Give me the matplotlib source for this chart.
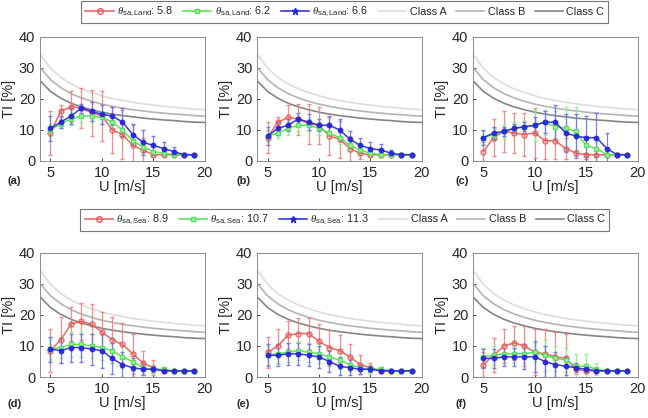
import numpy as np
import matplotlib
matplotlib.use("Agg")
import matplotlib.pyplot as plt
from matplotlib.lines import Line2D

plt.rcParams['font.family'] = ['Liberation Sans', 'DejaVu Sans']
plt.rcParams['mathtext.fontset'] = 'custom'
plt.rcParams['mathtext.rm'] = 'Liberation Sans'
plt.rcParams['mathtext.it'] = 'Liberation Serif:italic'

U = [5, 6, 7, 8, 9, 10, 11, 12, 13, 14, 15, 16, 17, 18, 19]

# IEC reference curves (U = 4..20)
U_ref = [4, 5, 6, 7, 8, 9, 10, 11, 12, 13, 14, 15, 16, 17, 18, 19, 20]
class_a = [34.4, 29.9, 26.9, 24.8, 23.2, 22.0, 21.0, 20.1, 19.5, 18.9, 18.4, 18.0, 17.6, 17.3, 17.0, 16.7, 16.5]
class_b = [30.1, 26.2, 23.6, 21.7, 20.3, 19.2, 18.3, 17.6, 17.0, 16.5, 16.1, 15.7, 15.4, 15.1, 14.9, 14.6, 14.4]
class_c = [25.8, 22.4, 20.2, 18.6, 17.4, 16.5, 15.7, 15.1, 14.6, 14.2, 13.8, 13.5, 13.2, 13.0, 12.7, 12.5, 12.4]

land_labels = ["5.8", "6.2", "6.6"]
sea_labels = ["8.9", "10.7", "11.3"]

# (a)
a_red = [9, 16, 17.5, 17, 15.5, 14.5, 10, 8.5, 5, 3.5, 2, 2, 2, 2, 2]
a_red_e = [7, 2, 5, 6.5, 7.5, 8, 7.5, 8, 6.5, 4, 0.5, 0.3, 0.3, 0.2, 0.2]
a_grn = [10, 12, 13.5, 14.5, 14.5, 14, 12.5, 10, 6.5, 4.5, 3, 2.5, 2, 2, 2]
a_grn_e = [2, 1.5, 2, 2, 2, 2, 2, 2.5, 2, 2, 1.5, 1, 0.5, 0.3, 0.2]
a_blu = [10.5, 12.5, 14.5, 17, 16, 15, 14.5, 12.5, 8.5, 6, 5, 4, 3, 2, 2]
a_blu_e = [4, 2, 2.5, 1.5, 3, 3, 3, 4.5, 3.5, 4, 3, 2, 1.5, 0.5, 0.3]
# (b)
b_red = [7.5, 12.5, 14, 13.5, 12, 11.5, 8, 7, 4, 2.5, 2, 2, 2, 2, 2]
b_red_e = [5, 1.5, 4, 5, 6.5, 6, 6, 6, 4, 2, 0.5, 0.3, 0.3, 0.2, 0.2]
b_grn = [8, 9, 10.5, 11.5, 11.5, 10.5, 9, 7.5, 5, 3.5, 2.5, 2, 2, 2, 2]
b_grn_e = [2, 1.5, 2, 2, 2, 2, 2, 2, 2, 1.5, 1, 0.8, 0.5, 0.3, 0.2]
b_blu = [8, 10.5, 11.5, 13.5, 12.5, 11.5, 11.5, 10, 7, 5, 4, 3.5, 2.5, 2, 2]
b_blu_e = [3, 2, 2, 2, 2.5, 2, 3, 3.5, 2.5, 2.5, 2, 2, 1, 0.5, 0.3]
# (c)
c_red = [3, 7.5, 9.5, 9, 8.5, 9, 6.5, 6.5, 4, 2.5, 2, 2, 2, 2, 2]
c_red_e = [3, 6, 6.5, 6.5, 7, 8, 6, 6, 3.5, 1, 0.5, 0.3, 0.3, 0.2, 0.2]
c_grn = [7.5, 8.5, 9.5, 10.5, 11, 11.5, 12.5, 11, 10.5, 9.5, 5, 4, 2, 2, 2]
c_grn_e = [2, 2, 2, 2, 2, 5, 4, 5, 7, 8, 3, 2, 0.5, 0.3, 0.2]
c_blu = [7.5, 9, 9.5, 10.5, 11, 11.5, 12.5, 12.5, 9, 8, 7.5, 7.5, 4, 2, 2]
c_blu_e = [2.5, 2, 1.5, 1.5, 1.5, 2.5, 3.5, 5.5, 6, 7, 7, 8, 5, 0.5, 0.3]
# (d)
d_red = [8.5, 12, 17, 18, 17, 14.5, 12, 10.5, 7.5, 4.5, 3, 2, 2, 2, 2]
d_red_e = [7, 7.5, 5.5, 6, 6.5, 6.5, 7.5, 7, 6.5, 4, 2.5, 0.5, 0.3, 0.2, 0.2]
d_grn = [9, 9.5, 10.5, 10.5, 10, 9.5, 8.5, 6.5, 5, 3, 2.5, 2.5, 2, 2, 2]
d_grn_e = [3.5, 3.5, 4, 4, 4, 4, 4, 3.5, 3, 2, 1.5, 0.8, 0.5, 0.3, 0.2]
d_blu = [9, 8.5, 9.5, 9.5, 9, 8.5, 6, 4, 3, 2.5, 2.5, 2, 2, 2, 2]
d_blu_e = [4, 4, 4.5, 4.5, 5, 5.5, 5, 4, 3, 2, 1, 0.5, 0.3, 0.2, 0.2]
# (e)
e_red = [8, 10, 13.5, 14, 14, 11.5, 9.5, 8.5, 6.5, 4, 3, 2, 2, 2, 2]
e_red_e = [5, 5.5, 4.5, 5, 5, 5.5, 5.5, 5, 4, 3, 1.5, 0.5, 0.3, 0.2, 0.2]
e_grn = [7, 7.5, 8, 8.5, 8, 7.5, 6.5, 5.5, 4, 3, 2.5, 2.5, 2, 2, 2]
e_grn_e = [3, 3, 3, 3, 3, 3, 3, 3, 2.5, 2, 1.5, 0.8, 0.5, 0.3, 0.2]
e_blu = [7, 7, 7.5, 7.5, 7, 6.5, 5, 3.5, 3, 2.5, 2.5, 2, 2, 2, 2]
e_blu_e = [3.5, 3.5, 3.5, 3.5, 3.5, 3.5, 3.5, 3, 2.5, 1.5, 1, 0.5, 0.3, 0.2, 0.2]
# (f)
f_red = [4, 7, 10, 11, 10, 8, 7.5, 6.5, 6, 2.5, 2, 2, 2, 2, 2]
f_red_e = [4, 5.5, 5.5, 5.5, 6.5, 7.5, 8, 8, 8, 1.5, 0.5, 0.3, 0.3, 0.2, 0.2]
f_grn = [6.5, 7, 7.5, 7.5, 7.5, 8, 7, 6, 5.5, 3.5, 3.5, 2.5, 2, 2, 2]
f_grn_e = [3, 3, 3, 3, 3, 3, 5, 4, 4, 4, 4, 2, 0.5, 0.3, 0.2]
f_blu = [6, 6, 6.5, 6.5, 6.5, 6.5, 5, 4, 3.5, 3, 2.5, 2, 2, 2, 2]
f_blu_e = [3, 3, 3, 3, 4, 5, 5, 4, 3, 1.5, 1, 0.5, 0.3, 0.2, 0.2]

panels = [
    ("(a)", a_red, a_red_e, a_grn, a_grn_e, a_blu, a_blu_e),
    ("(b)", b_red, b_red_e, b_grn, b_grn_e, b_blu, b_blu_e),
    ("(c)", c_red, c_red_e, c_grn, c_grn_e, c_blu, c_blu_e),
    ("(d)", d_red, d_red_e, d_grn, d_grn_e, d_blu, d_blu_e),
    ("(e)", e_red, e_red_e, e_grn, e_grn_e, e_blu, e_blu_e),
    ("(f)", f_red, f_red_e, f_grn, f_grn_e, f_blu, f_blu_e),
]

RED = "#e85a5a"
GRN = "#4fe04f"
BLU = "#2626d8"
CA, CB, CC = "#dcdcdc", "#b4b4b4", "#858585"

fig = plt.figure(figsize=(6.48, 4.18), dpi=100)

lefts = [0.062, 0.397, 0.730]
bottoms = [0.615, 0.098]
w, h = 0.254, 0.297
lab_x = [0.012, 0.365, 0.703]
lab_y = [0.560, 0.027]

for k, (lab, r, re, g, ge, b, be) in enumerate(panels):
    row, col = divmod(k, 3)
    ax = fig.add_axes([lefts[col], bottoms[row], w, h])
    ax.plot(U_ref, class_a, color=CA, lw=1.2)
    ax.plot(U_ref, class_b, color=CB, lw=1.2)
    ax.plot(U_ref, class_c, color=CC, lw=1.2)
    ax.errorbar(U, r, yerr=re, color=RED, ecolor="#f08080", elinewidth=0.9, capsize=1.5,
                marker="o", ms=3.5, mfc="none", mec=RED, lw=1.1, alpha=0.9)
    ax.errorbar(U, g, yerr=ge, color=GRN, ecolor="#90ee90", elinewidth=0.9, capsize=1.5,
                marker="s", ms=3, mfc="#b0f0b0", mec=GRN, lw=1.1, alpha=0.9)
    ax.errorbar(U, b, yerr=be, color=BLU, ecolor="#7070e8", elinewidth=0.9, capsize=1.5,
                marker="o", ms=3.2, mfc=BLU, mec=BLU, lw=1.1, alpha=0.9)
    ax.set_xlim(4, 20)
    ax.set_ylim(0, 40)
    ax.set_xticks([5, 10, 15, 20])
    ax.set_yticks([0, 10, 20, 30, 40])
    ax.tick_params(direction="in", length=2.5, labelsize=10.5, colors="#262626", width=0.6)
    for sp in ax.spines.values():
        sp.set_color("#8c8c8c")
        sp.set_linewidth(0.7)
    ax.set_xlabel("U [m/s]", fontsize=10.5, color="#262626", labelpad=0)
    ax.set_ylabel("TI [%]", fontsize=10.5, color="#262626", labelpad=2)
    fig.text(lab_x[col], lab_y[row], lab, fontsize=8, fontweight="bold", color="#262626")

def make_legend(y, kind, vals):
    handles = [
        Line2D([], [], color=RED, marker="o", mfc="none", ms=4, lw=1.1),
        Line2D([], [], color=GRN, marker="s", mfc="#b0f0b0", ms=3.5, lw=1.1),
        Line2D([], [], color=BLU, marker="*", ms=5, lw=1.1),
        Line2D([], [], color=CA, lw=1.2),
        Line2D([], [], color=CB, lw=1.2),
        Line2D([], [], color=CC, lw=1.2),
    ]
    labels = [r"$\theta_{\mathrm{sa,%s}}$: %s" % (kind, v) for v in vals] + ["Class A", "Class B", "Class C"]
    leg = fig.legend(handles, labels, loc="center", bbox_to_anchor=(0.532, y), ncol=6,
                     fontsize=7.8, frameon=True, fancybox=False, handlelength=2.6,
                     handletextpad=0.3, columnspacing=0.9, borderpad=0.4)
    leg.get_frame().set_edgecolor("#555555")
    leg.get_frame().set_linewidth(0.8)
    for t in leg.get_texts():
        t.set_color("#262626")

make_legend(0.971, "Land", land_labels)
make_legend(0.474, "Sea", sea_labels)

fig.savefig("out.png", dpi=100)
